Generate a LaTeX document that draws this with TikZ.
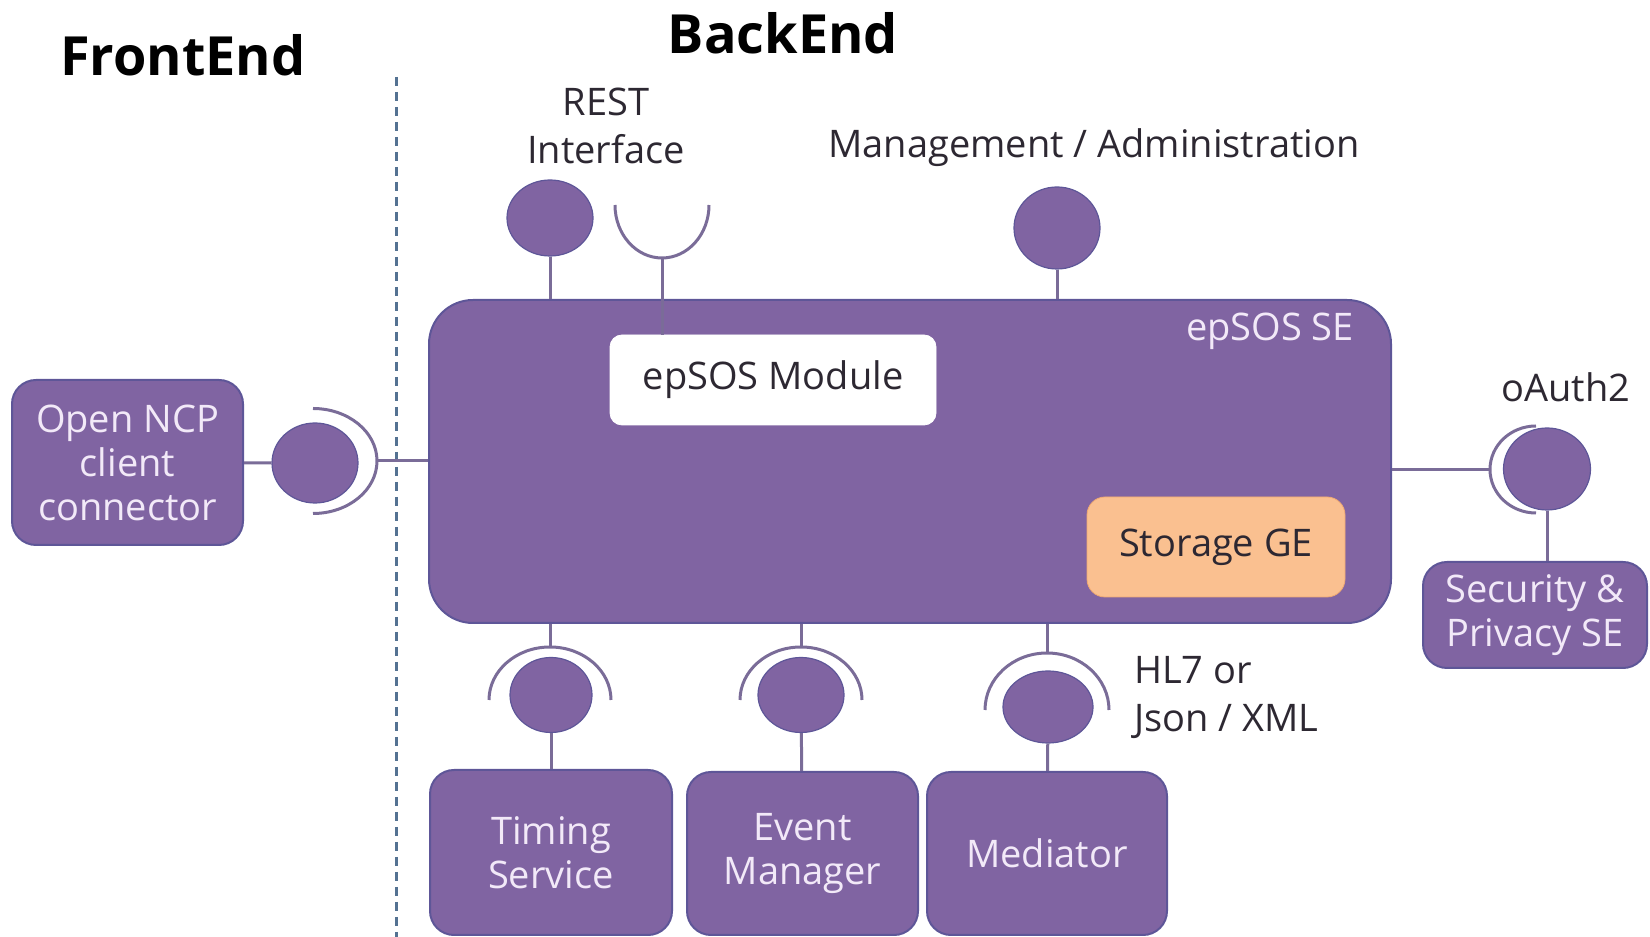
\documentclass[tikz,border=0pt]{standalone}
\usepackage{fontspec}
\setmainfont{Open Sans}
\usetikzlibrary{shapes.geometric, positioning, calc}
\definecolor{Purple-4}{RGB}{128,100,162}
\definecolor{Purple-D}{RGB}{94,86,152}
\definecolor{Purple-L}{RGB}{122,108,152}
\definecolor{Lavender}{RGB}{242,233,248}
\definecolor{Orange-L}{RGB}{250,192,144}
\definecolor{Orange-D}{RGB}{240,170,115}
\definecolor{Slate}{RGB}{84,114,146}
\definecolor{Ink}{RGB}{45,40,50}

\begin{document}
\begin{tikzpicture}[x=0.5pt, y=0.5pt,
    blk/.style={draw=Purple-D, line width=1pt, fill=Purple-4, rounded corners=12pt, text=Lavender, align=center, font=\fontsize{19}{22}\selectfont},
    ball/.style={ellipse, draw=Purple-D, line width=0.6pt, fill=Purple-4, inner sep=0pt},
    lnk/.style={draw=Purple-L, line width=1.5pt},
    lbl/.style={text=Ink, align=center, font=\fontsize{19}{24}\selectfont},
    ttl/.style={text=black, font=\bfseries\fontsize{27}{30}\selectfont}]
      \useasboundingbox (0,0) rectangle (1650,937);

      \node[ttl] (fe) at (183, 882) {FrontEnd};
      \node[ttl] (be) at (783, 904) {BackEnd};

      \coordinate (dtop) at (396, 860);
      \coordinate (dbot) at (396, 0);
      \draw[Slate, line width=1.5pt, dash pattern=on 4.5pt off 3pt] (dtop) -- (dbot);

      \node[blk, rounded corners=22pt, minimum width=481pt, minimum height=161.5pt] (se) at (910, 475.5) {};
      \node[text=Lavender, font=\fontsize{19}{22}\selectfont] (sel) at (1270, 606) {epSOS SE};
      \node[draw=white, fill=white, rounded corners=6pt, minimum width=163pt, minimum height=45pt, text=Ink, font=\fontsize{19}{22}\selectfont] (mod) at (773, 557) {epSOS Module};
      \node[draw=Orange-D, fill=Orange-L, rounded corners=9pt, minimum width=129pt, minimum height=50pt, text=Ink, font=\fontsize{19}{22}\selectfont] (stg) at (1216, 390) {Storage GE};

      \node[blk, minimum width=115.5pt, minimum height=82.5pt] (ncp) at (127.5, 474.5) {Open NCP\\client\\connector};
      \node[blk, minimum width=112pt, minimum height=53pt] (sec) at (1535, 322) {Security \&\\Privacy SE};
      \node[blk, minimum width=121pt, minimum height=82.5pt] (tim) at (551, 84.5) {Timing\\Service};
      \node[blk, minimum width=115.5pt, minimum height=81.5pt] (evt) at (802.5, 83.5) {Event\\Manager};
      \node[blk, minimum width=120pt, minimum height=81.5pt] (med) at (1047, 83.5) {Mediator};

      \node[ball, minimum width=43pt, minimum height=38pt] (rsb) at (550, 719) {};
      \node[ball, minimum width=43pt, minimum height=41pt] (mgb) at (1057, 709) {};
      \node[ball, minimum width=43pt, minimum height=40pt] (ncb) at (315, 474) {};
      \node[ball, minimum width=43.5pt, minimum height=41pt] (oab) at (1547, 468) {};
      \node[ball, minimum width=41pt, minimum height=37.5pt] (tmb) at (551, 242) {};
      \node[ball, minimum width=43pt, minimum height=37.5pt] (evb) at (801, 242) {};
      \node[ball, minimum width=45pt, minimum height=36pt] (mdb) at (1048, 230) {};

      \node[lbl] (rst) at (606, 811) {REST\\Interface};
      \node[lbl] (mgl) at (1094, 789) {Management / Administration};
      \node[lbl] (oal) at (1566, 550) {oAuth2};
      \node[lbl, align=left, anchor=west] (hl7) at (1127, 239) {HL7 or\\Json / XML};

      \coordinate (rsc) at (662, 732);
      \coordinate (rss) at (662, 679);
      \coordinate (ncc) at (313, 476);
      \coordinate (ncs) at (377, 476);
      \coordinate (oac) at (1536, 467.5);
      \coordinate (oas) at (1490, 467.5);
      \coordinate (tmc) at (550, 237);
      \coordinate (tms) at (550, 290);
      \coordinate (evc) at (801, 237);
      \coordinate (evs) at (801, 290);
      \coordinate (mdc) at (1047, 227);
      \coordinate (mds) at (1047, 284);

      \draw[lnk] ([xshift=-23.5pt]rsc) arc[start angle=180, end angle=360, x radius=23.5pt, y radius=26.5pt];
      \draw[lnk] ([yshift=26.25pt]ncc) arc[start angle=90, end angle=-90, x radius=32pt, y radius=26.25pt];
      \draw[lnk] ([yshift=21.75pt]oac) arc[start angle=90, end angle=270, x radius=23pt, y radius=21.75pt];
      \draw[lnk] ([xshift=-30.5pt]tmc) arc[start angle=180, end angle=0, x radius=30.5pt, y radius=26.5pt];
      \draw[lnk] ([xshift=-30.5pt]evc) arc[start angle=180, end angle=0, x radius=30.5pt, y radius=26.5pt];
      \draw[lnk] ([xshift=-31pt]mdc) arc[start angle=180, end angle=0, x radius=31pt, y radius=28.5pt];

      \draw[lnk] (rsb) -- (se.north -| rsb);
      \draw[lnk] (rss) -- (mod.north -| rss);
      \draw[lnk] (mgb) -- (se.north -| mgb);
      \draw[lnk] (ncp) -- (ncb);
      \draw[lnk] (ncs) -- (se.west |- ncs);
      \draw[lnk] (se.east |- oas) -- (oas);
      \draw[lnk] (oab.south) -- (oab.south |- sec.north);
      \draw[lnk] (se.south -| tms) -- (tms);
      \draw[lnk] (se.south -| evs) -- (evs);
      \draw[lnk] (se.south -| mds) -- (mds);
      \draw[lnk] (tmb) -- (tim);
      \draw[lnk] (evb) -- (evt);
      \draw[lnk] (mdb) -- (med);
\end{tikzpicture}
\end{document}
